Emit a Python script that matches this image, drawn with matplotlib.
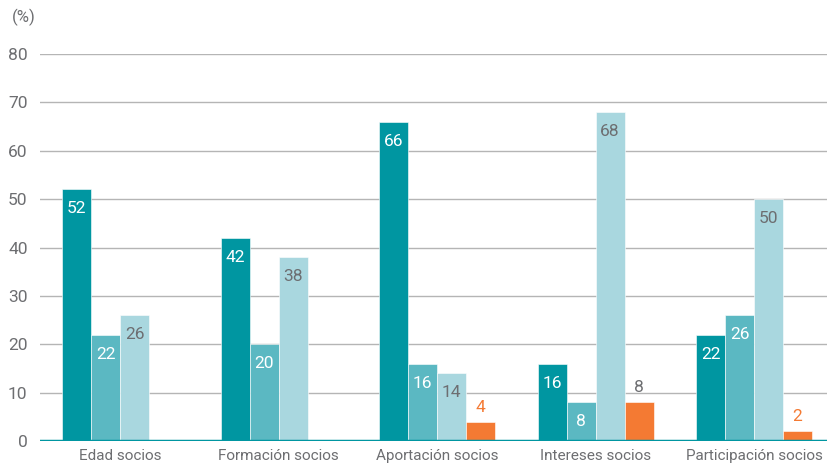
import matplotlib.pyplot as plt
import numpy as np

categories = ["Edad socios", "Formación socios", "Aportación socios",
              "Intereses socios", "Participación socios"]
serie_1 = [52, 42, 66, 16, 22]
serie_2 = [22, 20, 16, 8, 26]
serie_3 = [26, 38, 14, 68, 50]
serie_4 = [np.nan, np.nan, 4, 8, 2]
yticks = [0, 10, 20, 30, 40, 50, 60, 70, 80]

colors = ["#0096a1", "#5bb8c2", "#a9d7df", "#f47a33"]
label_colors = ["white", "white", "#6d6e71", "#f47a33"]
gray = "#6d6e71"

plt.rcParams['font.family'] = ['Roboto', 'DejaVu Sans']

fig = plt.figure(figsize=(8.27, 4.68), dpi=100)
ax = fig.add_axes([0.0484, 0.0577, 0.9516, 0.8269])

x = np.arange(len(categories))
w = 0.183
series = [serie_1, serie_2, serie_3, serie_4]
for i, vals in enumerate(series):
    pos = x + (i - 1.5) * w
    ax.bar(pos, vals, width=w, color=colors[i], edgecolor="white",
           linewidth=0.4, zorder=3)
    for p, v in zip(pos, vals):
        if np.isnan(v):
            continue
        if i < 3:
            ax.annotate(f"{v:g}", (p, v), xytext=(0, -14), textcoords="offset points",
                        ha="center", va="center", fontsize=12.5,
                        color=label_colors[i], zorder=4)
        else:
            # el 8 de Intereses va en gris en el original
            c = gray if v == 8 else label_colors[i]
            ax.annotate(f"{v:g}", (p, v), xytext=(0, 10.5), textcoords="offset points",
                        ha="center", va="center", fontsize=12.5, color=c, zorder=4)

ax.set_xlim(-0.505, 4.46)
ax.set_ylim(0, 80)
ax.set_yticks(yticks)
ax.set_xticks(x)
ax.set_xticklabels(categories, fontsize=11)
ax.tick_params(axis="both", length=0, colors=gray)
ax.tick_params(axis="y", pad=9, labelsize=12.5)
ax.tick_params(axis="x", pad=6)
ax.grid(axis="y", color="#b5b5b5", linewidth=1, zorder=0)
for s in ax.spines.values():
    s.set_visible(False)
ax.axhline(0, color="#0096a1", linewidth=2.5, zorder=5)

fig.text(0.0145, 0.962, "(%)", fontsize=12, color=gray, va="center")

fig.savefig("out.png", dpi=100)
